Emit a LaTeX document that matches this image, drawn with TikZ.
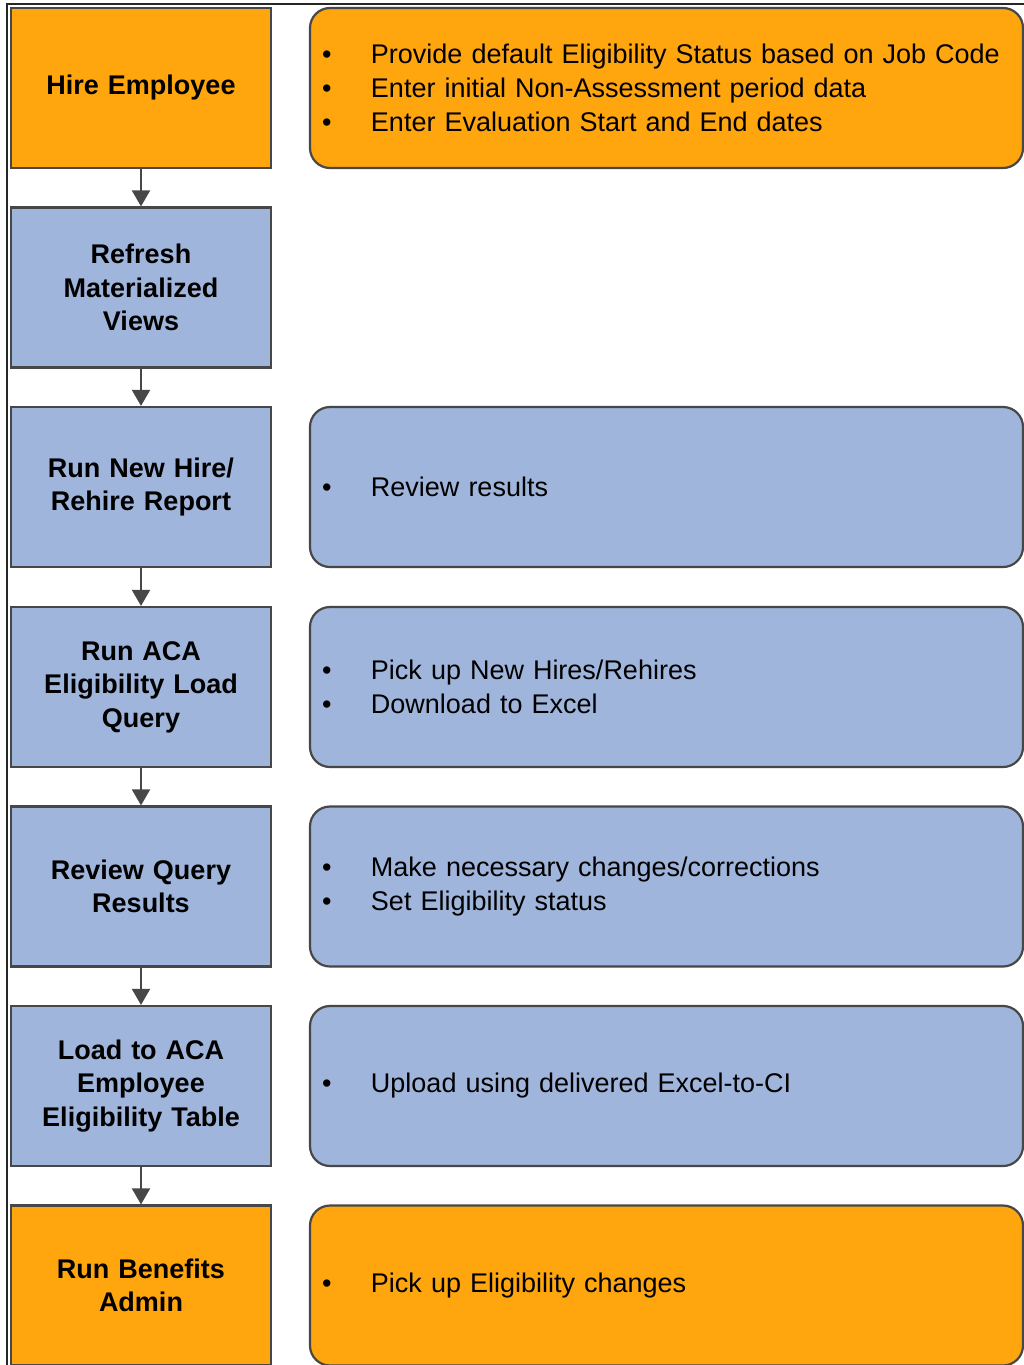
\documentclass[tikz,border=0pt]{standalone}
\usepackage{fontspec}
\setmainfont{Liberation Sans}
\usetikzlibrary{arrows.meta}
\definecolor{orng}{HTML}{FFA50E}
\definecolor{blu}{HTML}{A0B5DB}
\definecolor{edge}{HTML}{474747}
\newcommand\bitem[1]{\makebox[49pt][l]{\textbullet}#1}
\begin{document}
\begin{tikzpicture}[x=1pt,y=-1pt,
  stepbox/.style={draw=edge,line width=2.2pt,minimum width=260pt,minimum height=160pt,
    inner sep=0pt,text width=250pt,align=center,font=\fontsize{27}{33.5}\selectfont\bfseries},
  notebox/.style={draw=edge,line width=2.2pt,rounded corners=20pt,minimum width=713pt,
    minimum height=160pt,text width=689pt,inner xsep=12pt,inner ysep=0pt,align=left,
    font=\fontsize{27}{34}\selectfont},
  flow/.style={draw=edge,line width=2pt,-{Triangle[width=18pt,length=16pt]}}]
\clip (0,0) rectangle (1024,1365);
\fill[white] (0,0) rectangle (1024,1365);
\draw[line width=1.5pt,black!85] (7,1366) -- (7,4) -- (1025,4);

\node[stepbox,fill=orng] (s1) at (141,88) {Hire Employee};
\node[stepbox,fill=blu] (s2) at (141,287.5) {Refresh\\Materialized\\Views};
\node[stepbox,fill=blu] (s3) at (141,487) {Run New Hire/\\Rehire Report};
\node[stepbox,fill=blu] (s4) at (141,687) {Run ACA\\Eligibility Load\\Query};
\node[stepbox,fill=blu] (s5) at (141,886.5) {Review Query\\Results};
\node[stepbox,fill=blu] (s6) at (141,1086) {Load to ACA\\Employee\\Eligibility Table};
\node[stepbox,fill=orng] (s7) at (141,1285.5) {Run Benefits\\Admin};

\foreach \a/\b in {s1/s2,s2/s3,s3/s4,s4/s5,s5/s6,s6/s7}
  \draw[flow] (\a.south) -- (\b.north);

\node[notebox,fill=orng] (n1) at (666.5,88) {\bitem{Provide default Eligibility Status based on Job Code}\\\bitem{Enter initial Non-Assessment period data}\\\bitem{Enter Evaluation Start and End dates}};
\node[notebox,fill=blu] (n3) at (666.5,487) {\bitem{Review results}};
\node[notebox,fill=blu] (n4) at (666.5,687) {\bitem{Pick up New Hires/Rehires}\\\bitem{Download to Excel}};
\node[notebox,fill=blu] (n5) at (666.5,886.5) {\bitem{Make necessary changes/corrections}\\\bitem{Set Eligibility status}};
\node[notebox,fill=blu] (n6) at (666.5,1086) {\bitem{Upload using delivered Excel-to-CI}};
\node[notebox,fill=orng] (n7) at (666.5,1285.5) {\bitem{Pick up Eligibility changes}};
\end{tikzpicture}
\end{document}
